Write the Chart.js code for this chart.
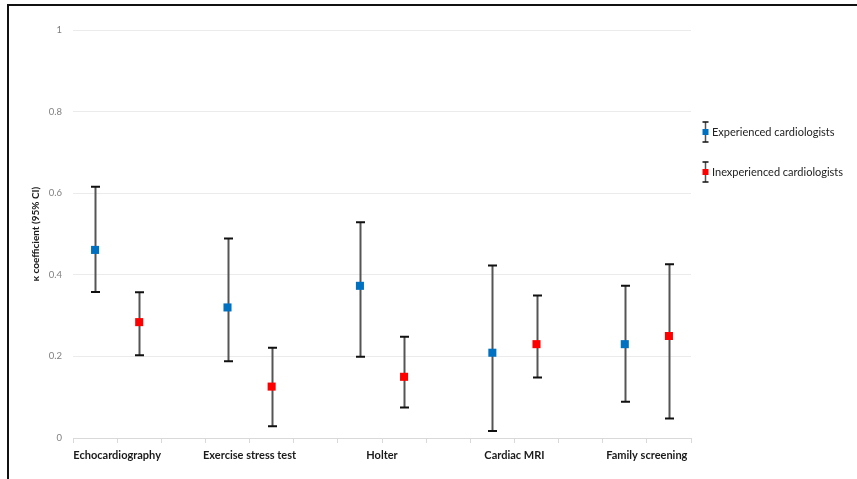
<!DOCTYPE html>
<html>
<head>
<meta charset="utf-8">
<script src="https://cdn.jsdelivr.net/npm/chart.js@4/dist/chart.umd.min.js"></script>
<style>
  html, body { margin: 0; padding: 0; background: #fff; }
  #wrap { position: relative; width: 857px; height: 479px; }
  #frame { position: absolute; left: 7px; top: 4px; width: 850px; height: 475px;
           border-top: 2px solid #111; border-left: 2px solid #111; box-sizing: border-box; pointer-events: none; }
  canvas { position: absolute; left: 0; top: 0; }
</style>
</head>
<body>
<div id="wrap">
  <canvas id="c" width="857" height="479"></canvas>
  <div id="frame"></div>
</div>
<script>
const categories = ['Echocardiography', 'Exercise stress test', 'Holter', 'Cardiac MRI', 'Family screening'];
const seriesNames = ['Experienced cardiologists', 'Inexperienced cardiologists'];
const expMean = [0.461, 0.320, 0.373, 0.209, 0.230];
const expLow  = [0.358, 0.188, 0.199, 0.017, 0.089];
const expHigh = [0.616, 0.489, 0.529, 0.423, 0.373];
const inexpMean = [0.284, 0.126, 0.150, 0.230, 0.250];
const inexpLow  = [0.203, 0.029, 0.075, 0.148, 0.048];
const inexpHigh = [0.357, 0.221, 0.248, 0.349, 0.426];
const yTicks = [0, 0.2, 0.4, 0.6, 0.8, 1];

const BLUE = '#0070C0', RED = '#FF0000';
const FONT = 'Lato, "Open Sans", "Liberation Sans", sans-serif';

// each category occupies 3 slots: experienced, inexperienced, gap
const expData = expMean.map((v, i) => ({x: 3 * i + 0.5, y: v, lo: expLow[i], hi: expHigh[i]}));
const inexpData = inexpMean.map((v, i) => ({x: 3 * i + 1.5, y: v, lo: inexpLow[i], hi: inexpHigh[i]}));

const errorBars = {
  id: 'errorBars',
  beforeDatasetsDraw(chart) {
    const ctx = chart.ctx;
    const xs = chart.scales.x, ys = chart.scales.y;
    chart.data.datasets.forEach(ds => {
      ds.data.forEach(p => {
        const x = Math.round(xs.getPixelForValue(p.x)) + 0.5;
        const yl = ys.getPixelForValue(p.lo), yh = ys.getPixelForValue(p.hi);
        ctx.save();
        ctx.strokeStyle = '#555';
        ctx.lineWidth = 2;
        ctx.beginPath(); ctx.moveTo(x, yl); ctx.lineTo(x, yh); ctx.stroke();
        ctx.strokeStyle = '#111';
        ctx.lineWidth = 2;
        ctx.beginPath();
        ctx.moveTo(x - 4.5, yl); ctx.lineTo(x + 4.5, yl);
        ctx.moveTo(x - 4.5, yh); ctx.lineTo(x + 4.5, yh);
        ctx.stroke();
        ctx.restore();
      });
    });
  },
  afterDraw(chart) {
    const ctx = chart.ctx;
    const items = [{name: seriesNames[0], color: BLUE, cy: 132}, {name: seriesNames[1], color: RED, cy: 172}];
    items.forEach(it => {
      const x = 705.5;
      ctx.save();
      ctx.strokeStyle = '#555'; ctx.lineWidth = 1.5;
      ctx.beginPath(); ctx.moveTo(x, it.cy - 10); ctx.lineTo(x, it.cy + 10); ctx.stroke();
      ctx.strokeStyle = '#111'; ctx.lineWidth = 1.5;
      ctx.beginPath();
      ctx.moveTo(x - 3, it.cy - 10); ctx.lineTo(x + 3, it.cy - 10);
      ctx.moveTo(x - 3, it.cy + 10); ctx.lineTo(x + 3, it.cy + 10);
      ctx.stroke();
      ctx.fillStyle = it.color;
      ctx.fillRect(x - 3, it.cy - 3, 6, 6);
      ctx.fillStyle = '#222';
      ctx.font = '11px ' + FONT;
      ctx.textBaseline = 'middle';
      ctx.textAlign = 'left';
      ctx.fillText(it.name, 712, it.cy);
      ctx.restore();
    });
  }
};

new Chart(document.getElementById('c'), {
  type: 'scatter',
  data: {
    datasets: [
      {label: seriesNames[0], data: expData, backgroundColor: BLUE, borderColor: BLUE, pointStyle: 'rect', pointRadius: 5.7, pointHoverRadius: 5.7, borderWidth: 0},
      {label: seriesNames[1], data: inexpData, backgroundColor: RED, borderColor: RED, pointStyle: 'rect', pointRadius: 5.7, pointHoverRadius: 5.7, borderWidth: 0}
    ]
  },
  options: {
    responsive: false,
    animation: false,
    layout: {padding: {left: 0, right: 166, top: 30, bottom: 0}},
    plugins: {legend: {display: false}, tooltip: {enabled: false}},
    scales: {
      x: {
        type: 'linear', min: 0, max: 3 * categories.length - 1,
        afterFit(s) { s.height = 41; },
        afterBuildTicks(s) { s.ticks = Array.from({length: 3 * categories.length}, (_, i) => ({value: i})); },
        ticks: {
          autoSkip: false, maxRotation: 0, minRotation: 0, padding: 6,
          color: '#1a1a1a', font: {family: FONT, size: 11, weight: 'bold'},
          callback(v) { return (v % 3 === 1) ? categories[(v - 1) / 3] : ''; }
        },
        grid: {drawOnChartArea: false, drawTicks: true, tickLength: 5, color: '#d9d9d9'},
        border: {color: '#d9d9d9', width: 1}
      },
      y: {
        min: 0, max: 1,
        afterFit(s) { s.width = 73; },
        afterBuildTicks(s) { s.ticks = yTicks.map(v => ({value: v})); },
        ticks: {padding: 11, color: '#808080', font: {family: FONT, size: 9.5}, callback(v) { return String(+v.toFixed(1)); }},
        grid: {drawTicks: false, color: '#ebebeb'},
        border: {display: false},
        title: {display: true, text: 'κ coefficient (95% CI)', color: '#1a1a1a', font: {family: FONT, size: 10, weight: 'bold'}, padding: {top: 30, bottom: 0}}
      }
    }
  },
  plugins: [errorBars]
});
</script>
</body>
</html>
